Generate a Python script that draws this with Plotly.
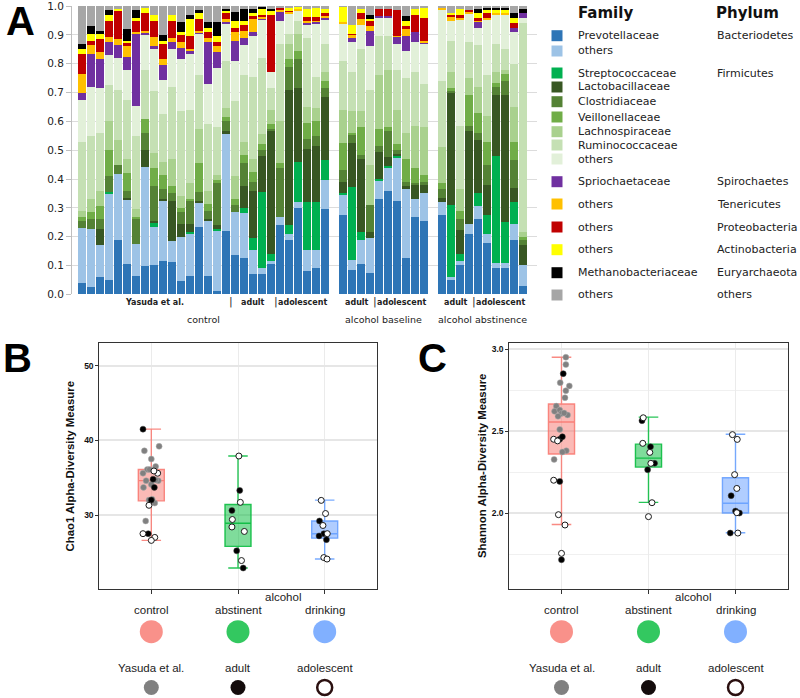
import plotly.graph_objects as go

W, H = 800, 698

# ---------------- panel A: relative abundance per sample (stack order bottom -> top) ----------------
prevotellaceae = [.04, .025, .06, .05, .187, .105, .062, .097, .10, .117, .112, .047, .065, .235, .065, .01, .22, .135, .125, .07, .07, .105, .24, .19, .30, .08, .09, .295,
                  .275, .085, .105, .075, .33, .36, .325, .125, .27, .255,
                  .275, .05, .10, .21, .26, .177, .09, .09, .19, .03]
bacteroidetes_other = [.19, .20, .11, .30, .23, .225, .113, .346, .133, .208, .073, .153, .145, .085, .19, .21, .335, .152, .158, .085, .02, .01, .03, .02, .02, .075, .065, .10,
                       .07, .035, .085, .12, .065, .08, .15, .24, .06, .095,
                       .045, .01, .015, .035, .045, .033, .02, .02, .055, .07]
streptococcaceae = [0, 0, 0, .005, 0, 0, 0, 0, .017, 0, 0, 0, .005, 0, 0, .005, 0, 0, .017, .04, .265, .025, 0, .03, .14, .165, .165, .07,
                    .005, .253, .025, 0, .005, .005, .005, 0, 0, 0,
                    0, .25, .025, 0, .045, .065, .37, .14, .075, 0]
lactobacillaceae = [0, 0, .055, 0, 0, .005, 0, .057, .005, .005, .14, .045, .03, .005, .005, .015, .01, 0, .075, .165, .125, .425, 0, .47, .255, .185, .195, .22,
                    .04, .151, .255, .02, .095, .03, .007, .01, .05, .03,
                    .015, .39, .083, .32, .185, .105, .21, .44, .05, .07]
clostridiaceae = [.025, .035, .035, .055, .033, .025, .085, .06, .12, .035, .025, .04, .08, .03, .03, .145, .035, .023, .08, .03, .02, .01, .167, .08, .10, .035, .035, .03,
                  .04, .029, .015, .095, .02, .09, .013, .015, .005, .01,
                  .03, .005, .037, .02, .025, .07, .03, .05, .095, .02]
veillonellaceae = [.015, .025, .045, .09, 0, .06, .01, .05, .065, .05, .025, .015, .005, .10, .025, .01, .015, .02, .03, .035, .02, .015, .018, .025, .03, .055, .05, .025,
                   .095, .007, .095, 0, .06, .015, .02, .08, .055, .025,
                   .02, .01, .03, .105, .07, .08, .015, .025, .065, .01]
lachnospiraceae = [.02, .045, .055, .10, .085, .05, .025, 0, .05, .045, .095, .04, .055, .12, .045, .02, .03, .08, .045, .045, .035, .05, .145, .055, .06, .055, .045, .03,
                   .115, .075, .055, .14, .185, .20, .12, .09, .145, .165,
                   .125, .055, .075, .06, .09, .09, .035, .015, .12, .015]
ruminococcaceae = [.24, .22, .20, .125, .175, .205, .255, .17, .216, .165, .25, .295, .255, .185, .23, .165, .165, .26, .23, .285, .265, .075, .27, .035, .045, .24, .11, .10,
                   .17, .135, .215, .26, .135, .115, .14, .19, .185, .15,
                   .23, .11, .22, .125, .145, .14, .10, .07, .15, .725]
firmicutes_other = [.145, .17, .155, .105, .11, .105, .103, .12, .144, .12, .13, .18, .195, .145, .141, .205, .13, .14, .105, .14, .135, .057, .08, .07, .035, .045, .185, .085,
                    .13, .105, .085, .15, .065, .065, .09, .095, .105, .14,
                    .25, .07, .37, .10, .06, .195, .10, .12, .11, .02]
spirochaetaceae = [.025, .113, .10, .046, .045, .045, .252, .008, .01, .05, .025, .04, .01, .005, .145, .055, .005, .07, .025, .015, .002, 0, .03, 0, 0, .005, .005, .005,
                   0, .015, 0, .055, .005, .005, .024, .05, .035, .005,
                   0, 0, 0, 0, .02, 0, 0, 0, .015, .015]
tenericutes = [.065, .032, .025, .017, .02, .035, .005, .007, .033, .02, .015, .02, .005, .005, .014, .02, .01, .03, .025, .045, .008, 0, .005, .005, .005, .01, .005, .005,
               .005, .01, .022, .015, 0, 0, .003, .025, 0, .005,
               .005, .015, .005, .003, .005, .005, .005, .005, 0, 0]
proteobacteria = [.07, .015, .045, .057, .10, .013, .04, .06, .057, .055, .06, .025, .045, .04, .02, .015, .02, .015, .02, .01, .005, .198, .01, .002, 0, .013, .013, .01,
                  0, .005, .018, .02, .025, .025, .088, .01, .058, .08,
                  0, .005, .01, .007, .01, .015, 0, 0, .015, 0]
actinobacteria = [.015, .025, .02, .02, .005, .007, .01, .02, .02, .01, .02, .011, .06, .02, .015, .02, .01, .025, .015, .012, .02, .015, 0, .013, .008, .027, .032, .015,
                  .053, .03, .015, .005, 0, 0, 0, .02, .022, .035,
                  0, .005, .02, 0, .015, .015, .015, .01, .02, 0]
methanobacteriaceae = [.018, .025, .01, .015, 0, .04, .025, 0, 0, .02, 0, .034, .015, .01, .02, .05, .005, .03, .04, .013, .008, .005, 0, 0, 0, 0, 0, 0,
                       0, 0, 0, .015, 0, 0, 0, .015, 0, 0,
                       0, 0, 0, 0, .015, .005, .005, .01, .015, .015]
other_phyla = [.132, .07, .085, .015, .01, .08, .015, .005, .03, .10, .03, .055, .03, .015, .055, .055, .01, .02, .01, .01, .002, .01, .005, .005, .002, .01, .005, .01,
               .002, .065, .01, .03, .01, .01, .015, .035, .01, .005,
               .005, .025, .01, .015, .01, .005, .005, .005, .025, .01]

series = [prevotellaceae, bacteroidetes_other, streptococcaceae, lactobacillaceae, clostridiaceae,
          veillonellaceae, lachnospiraceae, ruminococcaceae, firmicutes_other, spirochaetaceae,
          tenericutes, proteobacteria, actinobacteria, methanobacteriaceae, other_phyla]
family_names = ["Prevotellaceae", "others", "Streptococcaceae", "Lactobacillaceae", "Clostridiaceae",
                "Veillonellaceae", "Lachnospiraceae", "Ruminococcaceae", "others", "Spriochaetaceae",
                "others", "others", "others", "Methanobacteriaceae", "others"]
phylum_names = ["Bacteriodetes", "", "Firmicutes", "", "", "", "", "", "", "Spirochaetes",
                "Tenericutes", "Proteobacteria", "Actinobacteria", "Euryarchaeota", "others"]
colors = ["#2e75b6", "#9dc3e6", "#00b050", "#385723", "#548235", "#70ad47", "#a9d18e", "#c5e0b4",
          "#e2f0d9", "#7030a0", "#ffc000", "#c00000", "#ffff00", "#000000", "#a6a6a6"]
abundance_ticks = [0.0, 0.1, 0.2, 0.3, 0.4, 0.5, 0.6, 0.7, 0.8, 0.9, 1.0]

block_names = ["control", "alcohol baseline", "alcohol abstinence"]
subgroups = [[("Yasuda et al.", 17), ("adult", 5), ("adolescent", 6)],
             [("adult", 4), ("adolescent", 6)],
             [("adult", 4), ("adolescent", 6)]]

# ---------------- panels B / C: alpha diversity ----------------
groups = ["control", "abstinent", "drinking"]
cohorts = ["Yasuda et al.", "adult", "adolescent"]

chao1_q1 = [31.9, 25.8, 26.9]
chao1_median = [34.6, 28.9, 27.5]
chao1_q3 = [36.1, 31.4, 29.2]
chao1_low = [26.6, 22.9, 24.1]
chao1_high = [41.5, 37.9, 32.0]

chao1_value = [38.6, 39.2, 37.5, 36.1, 36.5, 35.6, 36.0, 34.6, 34.6, 34.1, 33.7, 32.0, 31.6, 29.2, 36.1, 34.7, 32.1,
               41.5, 34.8, 33.7, 32.0, 27.5,
               35.6, 31.3, 27.5, 27.0, 26.6, 35.9,
               33.3, 30.6, 25.2, 22.9,
               37.9, 31.7, 29.4, 28.4, 27.8, 23.9,
               29.2, 27.5, 27.2, 26.7,
               31.96, 30.2, 28.6, 27.5, 24.3, 24.1]
chao1_group = [1] * 17 + [1] * 5 + [1] * 6 + [2] * 4 + [2] * 6 + [3] * 4 + [3] * 6
chao1_cohort = ["Y"] * 17 + ["A"] * 5 + ["D"] * 6 + ["A"] * 4 + ["D"] * 6 + ["A"] * 4 + ["D"] * 6
chao1_dx = [-.08, .09, 0, -.046, .05, -.096, .02, -.06, .08, 0, -.09, -.027, .04, -.065, -.02, .05, .01,
            -.096, .02, .035, 0, -.035,
            .073, -.027, -.096, .04, 0, .03,
            .02, -.07, -.015, .06,
            .01, .027, -.065, -.07, .073, .04,
            -.06, -.01, -.065, .02,
            -.04, .01, -.02, .03, -.01, .027]

shannon_q1 = [2.36, 2.28, 2.0]
shannon_median = [2.555, 2.335, 2.06]
shannon_q3 = [2.665, 2.42, 2.215]
shannon_low = [1.93, 2.065, 1.88]
shannon_high = [2.95, 2.585, 2.48]

shannon_value = [2.95, 2.905, 2.795, 2.775, 2.746, 2.703, 2.652, 2.62, 2.628, 2.607, 2.598, 2.61, 2.51, 2.38, 2.372, 2.327, 2.59,
                 2.85, 2.45, 2.465, 2.193, 1.715,
                 2.45, 2.44, 2.20, 1.99, 1.927, 1.754,
                 2.563, 2.404, 2.303, 2.264,
                 2.581, 2.425, 2.37, 2.303, 2.063, 1.978,
                 2.106, 2.012, 2.0, 1.878,
                 2.478, 2.449, 2.234, 2.15, 2.002, 1.878]
shannon_group = chao1_group
shannon_cohort = chao1_cohort
shannon_dx = [.05, .05, -.015, .09, .05, .04, -.06, -.08, -.02, 0, .07, .03, -.02, .055, .01, -.085, -.04,
              .02, -.02, .01, -.02, 0,
              -.09, -.045, -.09, -.035, .04, 0,
              -.075, .023, .07, -.01,
              -.06, -.066, .015, .027, .04, 0,
              -.05, 0, .045, -.06,
              -.035, .02, -.01, .015, .015, .027]

group_rgb = [(248, 118, 109), (0, 186, 56), (97, 156, 255)]


def X(p):
    return p / W


def Y(p):
    return 1 - p / H


def note(text, x, y, xref="paper", yref="paper", size=11, family="DejaVu Sans", color="#222",
         xanchor="center", angle=0, weight="normal"):
    return dict(text=text, x=x, y=y, xref=xref, yref=yref, xanchor=xanchor, yanchor="middle",
                showarrow=False, textangle=angle,
                font=dict(family=family, size=size, color=color, weight=weight))


fig = go.Figure()

# sample positions: one empty slot between the three blocks
pos = []
start = 0
for blk in subgroups:
    n = sum(c for _, c in blk)
    pos += list(range(start, start + n))
    start += n + 1

for vals, col, name in zip(series, colors, family_names):
    fig.add_trace(go.Bar(x=pos, y=vals, marker=dict(color=col, line=dict(width=0)), width=0.88,
                         name=name, showlegend=False, xaxis="x", yaxis="y"))

annotations = []
shapes = []

# group labels under panel A
start = 0
for blk, bname in zip(subgroups, block_names):
    n = sum(c for _, c in blk)
    s = start
    for i, (lab, c) in enumerate(blk):
        annotations.append(note(lab, s + (c - 1) / 2, Y(302), xref="x", size=8, weight="bold"))
        if i > 0:
            annotations.append(note("|", s - 0.5, Y(301), xref="x", size=11, color="#333"))
        s += c
    annotations.append(note(bname, start + (n - 1) / 2, Y(319.5), xref="x", size=9.5))
    start += n + 1

# legend of panel A
legend_y = [35.7, 51, 73, 87, 101.7, 117, 131.7, 145, 159, 181.7, 204, 227, 249.7, 272.7, 295]
annotations.append(note("Family", X(576), Y(13), size=15, color="#111", xanchor="left", weight="bold"))
annotations.append(note("Phylum", X(714), Y(13), size=15, color="#111", xanchor="left", weight="bold"))
for fam, phy, col, yy in zip(family_names, phylum_names, colors, legend_y):
    shapes.append(dict(type="rect", xref="paper", yref="paper", x0=X(551.5), x1=X(562.5), y0=Y(yy + 5.5), y1=Y(yy - 5.5),
                       fillcolor=col, line=dict(width=0)))
    annotations.append(note(fam, X(576), Y(yy), size=11, xanchor="left"))
    if phy:
        annotations.append(note(phy, X(715), Y(yy), size=11, xanchor="left"))

# panel letters
for lab, lx, ly in [("A", 20, 21), ("B", 17, 358), ("C", 432, 358)]:
    annotations.append(note(lab, X(lx), Y(ly), size=40, family="Liberation Sans", color="#000", weight="bold"))


def diversity_panel(xa, ya, q1, med, q3, lo, hi, values, grp, coh, dx):
    for i in range(3):
        r, g, b = group_rgb[i]
        fig.add_trace(go.Box(x=[i + 1], q1=[q1[i]], median=[med[i]], q3=[q3[i]], lowerfence=[lo[i]],
                             upperfence=[hi[i]], width=0.3, whiskerwidth=0.75, boxpoints=False,
                             fillcolor="rgba(%d,%d,%d,0.5)" % (r, g, b),
                             line=dict(color="rgba(%d,%d,%d,0.85)" % (r, g, b), width=1.4),
                             showlegend=False, xaxis=xa, yaxis=ya, hoverinfo="skip"))
    styles = {"Y": dict(color="#808080", line=dict(color="#b0b0b0", width=0.5)),
              "A": dict(color="#000000", line=dict(color="#444", width=0.5)),
              "D": dict(color="#ffffff", line=dict(color="#1a1a1a", width=1))}
    for key in ["Y", "A", "D"]:
        xs = [gg + d for gg, d, c in zip(grp, dx, coh) if c == key]
        ys = [v for v, c in zip(values, coh) if c == key]
        fig.add_trace(go.Scatter(x=xs, y=ys, mode="markers", marker=dict(size=6, **styles[key]),
                                 showlegend=False, xaxis=xa, yaxis=ya))


diversity_panel("x2", "y2", chao1_q1, chao1_median, chao1_q3, chao1_low, chao1_high,
                chao1_value, chao1_group, chao1_cohort, chao1_dx)
diversity_panel("x3", "y3", shannon_q1, shannon_median, shannon_q3, shannon_low, shannon_high,
                shannon_value, shannon_group, shannon_cohort, shannon_dx)

# x labels, titles and colour / cohort keys for B and C
key_fill = ["#808080", "#140c0c", "#ffffff"]
key_line = [dict(width=0), dict(width=0), dict(color="#2b1010", width=2.5)]
for xa, title, tx, alx in [("x2", "Chao1 Alpha-Diversity Measure", 69, 283.3),
                           ("x3", "Shannon Alpha-Diversity Measure", 481.5, 692.5)]:
    annotations.append(note(title, X(tx), Y(466.5), size=11.4, family="Liberation Sans", color="#111",
                            angle=-90, weight="bold"))
    annotations.append(note("alcohol", X(alx), Y(597), size=11.5, family="Liberation Sans"))
    for i in range(3):
        r, g, b = group_rgb[i]
        annotations.append(note(groups[i], i + 1, Y(609.5), xref=xa, size=11.5, family="Liberation Sans"))
        annotations.append(note(cohorts[i], i + 1, Y(668), xref=xa, size=11.5, family="Liberation Sans"))
        shapes.append(dict(type="circle", xref=xa, yref="paper", xsizemode="pixel", ysizemode="pixel",
                           xanchor=i + 1, yanchor=Y(631.7), x0=-11.5, x1=11.5, y0=-11.5, y1=11.5,
                           fillcolor="rgba(%d,%d,%d,0.8)" % (r, g, b), line=dict(width=0)))
        shapes.append(dict(type="circle", xref=xa, yref="paper", xsizemode="pixel", ysizemode="pixel",
                           xanchor=i + 1, yanchor=Y(687.5), x0=-7.5, x1=7.5, y0=-7.5, y1=7.5,
                           fillcolor=key_fill[i], line=key_line[i]))

frame = dict(showline=True, mirror=True, linecolor="#333", linewidth=1, zeroline=False, automargin=False)
xcat = dict(range=[0.4, 3.6], tickvals=[1, 2, 3], showticklabels=False, ticks="outside", ticklen=4,
            tickcolor="#333", showgrid=True, gridcolor="#ebebeb", gridwidth=1, **frame)

fig.update_layout(
    width=W, height=H, margin=dict(l=0, r=0, t=0, b=0, pad=0),
    paper_bgcolor="white", plot_bgcolor="white", barmode="stack", bargap=0,
    xaxis=dict(domain=[X(72), X(537)], range=[-1.14, 50.52], showticklabels=False, showgrid=False,
               zeroline=False, anchor="y", automargin=False),
    yaxis=dict(domain=[Y(294.3), Y(6)], range=[0, 1.0005], tickvals=abundance_ticks, tickformat=".1f",
               showgrid=True, gridcolor="#dcdcdc", ticks="outside", ticklen=5, tickcolor="#bfbfbf",
               showline=True, linecolor="#bfbfbf", zeroline=False, anchor="x", ticklabeloverflow="allow",
               automargin=False, tickfont=dict(family="DejaVu Sans", size=10.5, color="#222")),
    xaxis2=dict(domain=[X(99.3), X(376.7)], anchor="y2", **xcat),
    yaxis2=dict(domain=[Y(589.3), Y(343.3)], range=[20.05, 53.0], tickvals=[30, 40, 50], anchor="x2",
                showgrid=True, gridcolor="#e6e6e6", gridwidth=2, ticks="outside", ticklen=3, tickcolor="#333",
                tickfont=dict(family="Liberation Sans", size=8.5, color="#111", weight="bold"), **frame),
    xaxis3=dict(domain=[X(509.3), X(787.7)], anchor="y3", **xcat),
    yaxis3=dict(domain=[Y(589.3), Y(343.3)], range=[1.535, 3.035], tickvals=[2.0, 2.5, 3.0],
                ticktext=["2.0", "2.5", "3.0"], anchor="x3", showgrid=True, gridcolor="#e6e6e6", gridwidth=1.5,
                ticks="outside", ticklen=3, tickcolor="#333",
                minor=dict(tickvals=[1.75, 2.25, 2.75], showgrid=True, gridcolor="#f0f0f0", gridwidth=1),
                tickfont=dict(family="Liberation Sans", size=8.5, color="#111", weight="bold"), **frame),
    annotations=annotations, shapes=shapes,
)

# drop the browser's default 8px page margin so the figure sits at the window's top-left corner
fig.write_html("out.html", config={"displayModeBar": False},
               post_script="document.body.style.margin='0px';")
